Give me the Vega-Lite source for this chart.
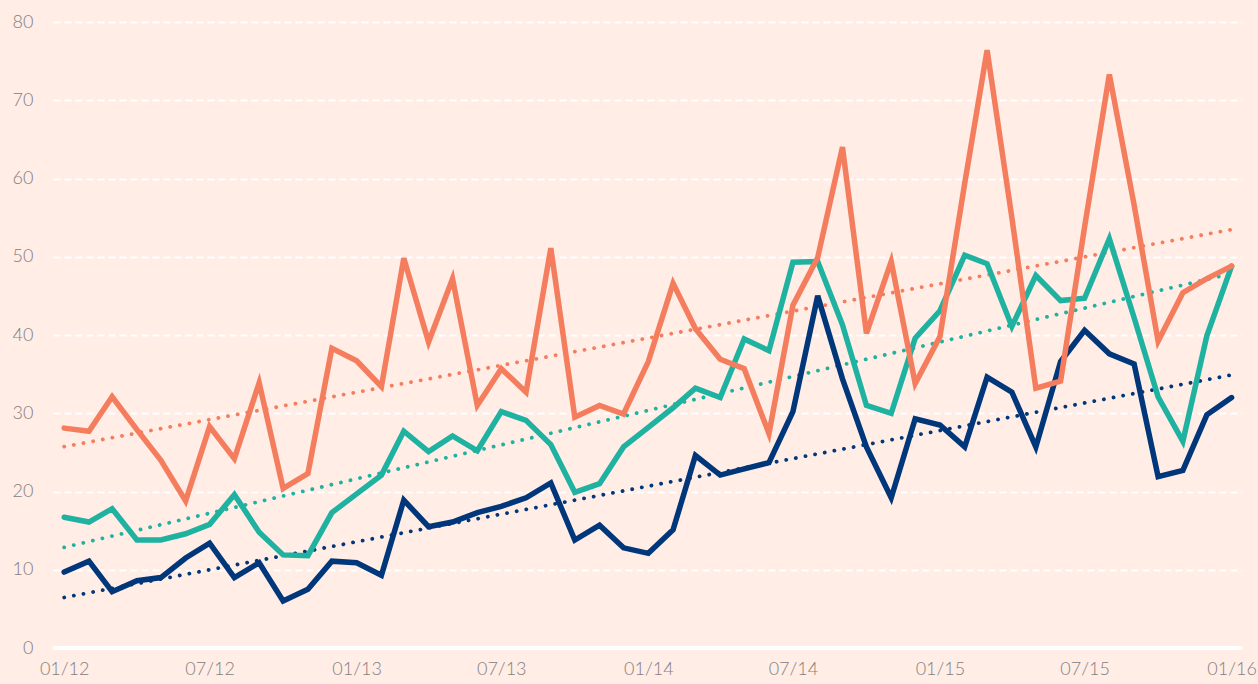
{
  "$schema": "https://vega.github.io/schema/vega-lite/v6.json",
  "width": 1189,
  "height": 626,
  "autosize": {"type": "none"},
  "padding": {"left": 53, "top": 22, "right": 16, "bottom": 36},
  "background": "#FFEDE6",
  "config": {
    "view": {"stroke": null},
    "axis": {"labelFont": "Lato", "labelFontWeight": 300, "labelColor": "#838080", "labelFontSize": 18}
  },
  "data": {
    "values": [
      {"date": "2012-01-01", "Navy": 9.7, "Teal": 16.7, "Orange": 28.1},
      {"date": "2012-02-01", "Navy": 11.1, "Teal": 16.1, "Orange": 27.7},
      {"date": "2012-03-01", "Navy": 7.2, "Teal": 17.8, "Orange": 32.1},
      {"date": "2012-04-01", "Navy": 8.6, "Teal": 13.8, "Orange": 27.9},
      {"date": "2012-05-01", "Navy": 9.0, "Teal": 13.8, "Orange": 24.0},
      {"date": "2012-06-01", "Navy": 11.5, "Teal": 14.6, "Orange": 18.8},
      {"date": "2012-07-01", "Navy": 13.4, "Teal": 15.8, "Orange": 28.3},
      {"date": "2012-08-01", "Navy": 9.0, "Teal": 19.6, "Orange": 24.2},
      {"date": "2012-09-01", "Navy": 10.9, "Teal": 14.8, "Orange": 33.9},
      {"date": "2012-10-01", "Navy": 6.0, "Teal": 11.9, "Orange": 20.4},
      {"date": "2012-11-01", "Navy": 7.5, "Teal": 11.8, "Orange": 22.3},
      {"date": "2012-12-01", "Navy": 11.1, "Teal": 17.3, "Orange": 38.3},
      {"date": "2013-01-01", "Navy": 10.9, "Teal": 19.7, "Orange": 36.7},
      {"date": "2013-02-01", "Navy": 9.3, "Teal": 22.1, "Orange": 33.4},
      {"date": "2013-03-01", "Navy": 18.9, "Teal": 27.7, "Orange": 49.8},
      {"date": "2013-04-01", "Navy": 15.5, "Teal": 25.1, "Orange": 39.1},
      {"date": "2013-05-01", "Navy": 16.1, "Teal": 27.1, "Orange": 47.2},
      {"date": "2013-06-01", "Navy": 17.3, "Teal": 25.2, "Orange": 31.0},
      {"date": "2013-07-01", "Navy": 18.1, "Teal": 30.2, "Orange": 35.7},
      {"date": "2013-08-01", "Navy": 19.2, "Teal": 29.1, "Orange": 32.7},
      {"date": "2013-09-01", "Navy": 21.1, "Teal": 26.0, "Orange": 51.1},
      {"date": "2013-10-01", "Navy": 13.8, "Teal": 19.9, "Orange": 29.5},
      {"date": "2013-11-01", "Navy": 15.7, "Teal": 21.0, "Orange": 31.0},
      {"date": "2013-12-01", "Navy": 12.8, "Teal": 25.7, "Orange": 29.9},
      {"date": "2014-01-01", "Navy": 12.1, "Teal": 28.2, "Orange": 36.6},
      {"date": "2014-02-01", "Navy": 15.1, "Teal": 30.7, "Orange": 46.6},
      {"date": "2014-03-01", "Navy": 24.6, "Teal": 33.2, "Orange": 40.8},
      {"date": "2014-04-01", "Navy": 22.1, "Teal": 32.0, "Orange": 36.9},
      {"date": "2014-05-01", "Navy": 22.9, "Teal": 39.5, "Orange": 35.7},
      {"date": "2014-06-01", "Navy": 23.7, "Teal": 38.0, "Orange": 27.4},
      {"date": "2014-07-01", "Navy": 30.2, "Teal": 49.3, "Orange": 43.8},
      {"date": "2014-08-01", "Navy": 45.0, "Teal": 49.4, "Orange": 49.9},
      {"date": "2014-09-01", "Navy": 34.4, "Teal": 41.3, "Orange": 64.0},
      {"date": "2014-10-01", "Navy": 25.7, "Teal": 31.0, "Orange": 40.2},
      {"date": "2014-11-01", "Navy": 19.2, "Teal": 30.0, "Orange": 49.4},
      {"date": "2014-12-01", "Navy": 29.3, "Teal": 39.6, "Orange": 33.8},
      {"date": "2015-01-01", "Navy": 28.5, "Teal": 43.1, "Orange": 39.8},
      {"date": "2015-02-01", "Navy": 25.7, "Teal": 50.2, "Orange": 59.4},
      {"date": "2015-03-01", "Navy": 34.6, "Teal": 49.1, "Orange": 76.4},
      {"date": "2015-04-01", "Navy": 32.7, "Teal": 41.1, "Orange": 55.0},
      {"date": "2015-05-01", "Navy": 25.7, "Teal": 47.6, "Orange": 33.2},
      {"date": "2015-06-01", "Navy": 36.6, "Teal": 44.4, "Orange": 34.1},
      {"date": "2015-07-01", "Navy": 40.6, "Teal": 44.7, "Orange": 53.8},
      {"date": "2015-08-01", "Navy": 37.6, "Teal": 52.3, "Orange": 73.3},
      {"date": "2015-09-01", "Navy": 36.3, "Teal": 42.2, "Orange": 56.6},
      {"date": "2015-10-01", "Navy": 21.9, "Teal": 32.1, "Orange": 39.2},
      {"date": "2015-11-01", "Navy": 22.7, "Teal": 26.4, "Orange": 45.4},
      {"date": "2015-12-01", "Navy": 29.8, "Teal": 39.9, "Orange": 47.2},
      {"date": "2016-01-01", "Navy": 32.0, "Teal": 48.8, "Orange": 48.8}
    ],
    "format": {"parse": {"date": "date"}}
  },
  "transform": [
    {"fold": ["Navy", "Teal", "Orange"], "as": ["series", "value"]}
  ],
  "encoding": {
    "x": {
      "field": "date",
      "type": "temporal",
      "scale": {
        "type": "utc",
        "domain": [
          {"year": 2011, "month": 12, "date": 18, "utc": true},
          {"year": 2016, "month": 1, "date": 14, "utc": true}
        ]
      },
      "axis": {
        "title": null,
        "values": [
          {"year": 2012, "month": 1, "date": 1, "utc": true},
          {"year": 2012, "month": 7, "date": 1, "utc": true},
          {"year": 2013, "month": 1, "date": 1, "utc": true},
          {"year": 2013, "month": 7, "date": 1, "utc": true},
          {"year": 2014, "month": 1, "date": 1, "utc": true},
          {"year": 2014, "month": 7, "date": 1, "utc": true},
          {"year": 2015, "month": 1, "date": 1, "utc": true},
          {"year": 2015, "month": 7, "date": 1, "utc": true},
          {"year": 2016, "month": 1, "date": 1, "utc": true}
        ],
        "labelExpr": "utcFormat(datum.value, '%m/%y')",
        "domain": false,
        "ticks": false,
        "grid": false,
        "labelPadding": 12,
        "labelFlush": false
      }
    },
    "y": {
      "field": "value",
      "type": "quantitative",
      "scale": {"domain": [0, 80], "nice": false},
      "axis": {
        "title": null,
        "values": [0, 10, 20, 30, 40, 50, 60, 70, 80],
        "domain": false,
        "ticks": false,
        "grid": true,
        "gridColor": "#FFFFFF",
        "gridDash": [7, 4],
        "gridWidth": 2,
        "labelPadding": 20
      }
    },
    "color": {
      "field": "series",
      "type": "nominal",
      "scale": {"domain": ["Navy", "Teal", "Orange"], "range": ["#00377A", "#20B2A0", "#F47D5E"]},
      "legend": null
    }
  },
  "layer": [
    {
      "mark": {"type": "rule", "color": "#FFFFFF", "strokeWidth": 4},
      "encoding": {"x": {"value": 0}, "x2": {"value": 1189}, "y": {"datum": 0}, "color": {"value": "#FFFFFF"}}
    },
    {
      "transform": [{"regression": "value", "on": "date", "groupby": ["series"]}],
      "mark": {"type": "line", "strokeWidth": 3.8, "strokeDash": [0.1, 9.7], "strokeCap": "round"}
    },
    {
      "mark": {"type": "line", "strokeWidth": 5.5, "strokeJoin": "miter", "strokeCap": "round"}
    }
  ]
}
